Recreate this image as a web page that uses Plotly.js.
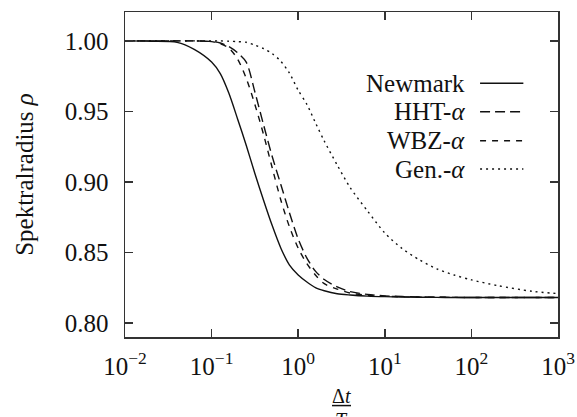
<!DOCTYPE html>
<html>
<head>
<meta charset="utf-8">
<script src="https://cdn.plot.ly/plotly-3.0.1.min.js"></script>
<style>html,body{margin:0;padding:0;background:#fff;}#chart{width:577px;height:417px;}</style>
</head>
<body>
<div id="chart"></div>
<script>
// Δt/T sample positions
var dtOverT = [0.01, 0.02, 0.04, 0.063, 0.1, 0.126, 0.158, 0.2, 0.251, 0.316, 0.398, 0.501, 0.631, 0.794, 1, 1.26, 1.58, 2, 2.82, 3.98, 6.31, 10, 15.8, 25.1, 39.8, 63.1, 100, 200, 501, 1000];

var rhoNewmark = [1.0, 0.9998, 0.999, 0.994, 0.985, 0.9768, 0.963, 0.9445, 0.926, 0.906, 0.887, 0.869, 0.853, 0.841, 0.834, 0.829, 0.825, 0.8228, 0.8207, 0.8198, 0.819, 0.8186, 0.8184, 0.8182, 0.8181, 0.818, 0.818, 0.818, 0.818, 0.818];
var rhoHHT = [1.0, 1.0, 1.0, 1.0, 0.9996, 0.9985, 0.996, 0.9915, 0.985, 0.9638, 0.9405, 0.918, 0.898, 0.878, 0.8595, 0.846, 0.8367, 0.8308, 0.8255, 0.8222, 0.8202, 0.8192, 0.8187, 0.8184, 0.8182, 0.8181, 0.818, 0.818, 0.818, 0.818];
var rhoWBZ = [1.0, 1.0, 1.0, 1.0, 0.9995, 0.998, 0.995, 0.987, 0.9735, 0.9549, 0.9336, 0.910, 0.887, 0.868, 0.853, 0.842, 0.834, 0.8278, 0.824, 0.8212, 0.8196, 0.8189, 0.8185, 0.8183, 0.8182, 0.8181, 0.818, 0.818, 0.818, 0.818];
var rhoGenAlpha = [1.0, 1.0, 1.0, 1.0, 1.0, 1.0, 0.9998, 0.9995, 0.999, 0.997, 0.9945, 0.991, 0.9855, 0.977, 0.965, 0.955, 0.942, 0.929, 0.912, 0.896, 0.8794, 0.8638, 0.8528, 0.8447, 0.8383, 0.834, 0.8305, 0.8265, 0.8224, 0.8208];

var seriesNames = ['Newmark', 'HHT-<i>α</i>', 'WBZ-<i>α</i>', 'Gen.-<i>α</i>'];
var seriesDash = ['solid', '10px,5px', '6px,6px', '2px,4px'];

var xTickVals = [0.01, 0.1, 1, 10, 100, 1000];
var xTickText = ['10<sup>−2</sup>', '10<sup>−1</sup>', '10<sup>0</sup>', '10<sup>1</sup>', '10<sup>2</sup>', '10<sup>3</sup>'];
var yTickVals = [0.80, 0.85, 0.90, 0.95, 1.00];
var yTickText = ['0.80', '0.85', '0.90', '0.95', '1.00'];

var series = [rhoNewmark, rhoHHT, rhoWBZ, rhoGenAlpha];
var FONT = '"Liberation Serif", "Times New Roman", serif';
var INK = '#111';

var traces = series.map(function (ys, i) {
  return {
    x: dtOverT, y: ys, type: 'scatter', mode: 'lines', name: seriesNames[i],
    line: {color: INK, width: 1.4, dash: seriesDash[i], shape: 'spline', smoothing: 0.8},
    showlegend: false, hoverinfo: 'skip'
  };
});

// manual legend (label on the left, line sample on the right)
var legendY = [0.7806, 0.6932, 0.604, 0.5169];
var annotations = [];
var shapes = [];
seriesNames.forEach(function (name, i) {
  annotations.push({
    xref: 'paper', yref: 'paper', x: 0.79, y: legendY[i], xanchor: 'right', yanchor: 'middle',
    text: name, showarrow: false, font: {family: FONT, size: 25, color: INK}
  });
  shapes.push({
    type: 'line', xref: 'paper', yref: 'paper', x0: 0.82, x1: 0.92, y0: legendY[i], y1: legendY[i],
    line: {color: INK, width: 1.4, dash: seriesDash[i]}
  });
});

// x-axis title as a fraction Δt / T
annotations.push({
  xref: 'paper', yref: 'paper', x: 0.5, y: -0.183, xanchor: 'center', yanchor: 'middle',
  text: 'Δ<i>t</i>', showarrow: false, font: {family: FONT, size: 20, color: INK}
});
annotations.push({
  xref: 'paper', yref: 'paper', x: 0.5, y: -0.214, xanchor: 'center', yanchor: 'top',
  text: '<i>T</i>', showarrow: false, font: {family: FONT, size: 20, color: INK}
});
shapes.push({
  type: 'line', xref: 'paper', yref: 'paper', x0: 0.478, x1: 0.522, y0: -0.211, y1: -0.211,
  line: {color: INK, width: 1.5}
});

var layout = {
  width: 577, height: 417,
  margin: {l: 125, r: 19, t: 12, b: 80},
  paper_bgcolor: '#fff', plot_bgcolor: '#fff',
  font: {family: FONT, size: 25, color: INK},
  xaxis: {
    type: 'log', range: [-2, 3], tickmode: 'array', tickvals: xTickVals, ticktext: xTickText,
    ticks: 'inside', ticklen: 8, tickwidth: 1.5, tickcolor: '#333', ticklabelstandoff: 6,
    showline: true, linecolor: '#333', linewidth: 1.5, mirror: 'ticks',
    showgrid: false, zeroline: false,
    tickfont: {family: FONT, size: 25, color: INK}
  },
  yaxis: {
    range: [0.79, 1.0205], tickmode: 'array', tickvals: yTickVals, ticktext: yTickText,
    ticks: 'inside', ticklen: 8, tickwidth: 1.5, tickcolor: '#333', ticklabelstandoff: 10,
    showline: true, linecolor: '#333', linewidth: 1.5, mirror: 'ticks',
    showgrid: false, zeroline: false,
    tickfont: {family: FONT, size: 25, color: INK},
    title: {text: 'Spektralradius <i>ρ</i>', font: {family: FONT, size: 25, color: INK}, standoff: 24}
  },
  annotations: annotations,
  shapes: shapes
};

Plotly.newPlot('chart', traces, layout, {staticPlot: true, displayModeBar: false});
</script>
</body>
</html>
